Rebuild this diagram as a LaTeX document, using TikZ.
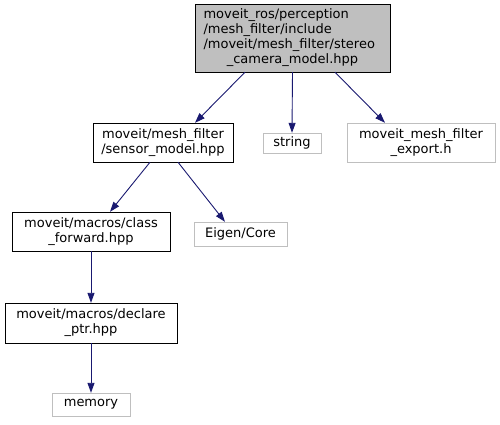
\documentclass[tikz,border=0pt]{standalone}
\usepackage{fontspec}
\setmainfont{DejaVu Sans}
\usetikzlibrary{arrows.meta}
\definecolor{kantenblau}{HTML}{191970}
\definecolor{kopfgrau}{HTML}{BFBFBF}
\begin{document}
\begin{tikzpicture}[x=1pt,y=-1pt,
  font=\fontsize{13}{15}\selectfont,
  datei/.style={draw=black,fill=white,inner sep=0pt,align=center},
  sysdatei/.style={draw=kopfgrau,fill=white,inner sep=0pt,align=center},
  dep/.style={draw=kantenblau,line width=0.9pt,-{Triangle[length=10pt,width=7pt]}}]
% Bildgroesse (px)
\useasboundingbox (0,0) rectangle (500,424);

% Ausgangsdatei (grau hinterlegt)
\node[datei,fill=kopfgrau,minimum width=195,minimum height=68,text width=178,align=left]
  (stereo) at (292.5,38)
  {moveit\_ros/perception\\/mesh\_filter/include\\/moveit/mesh\_filter/stereo\\
   \hbox to \hsize{\hfil\_camera\_model.hpp\hfil}};

% zweite Ebene
\node[datei,minimum width=140,minimum height=39] (sensor) at (163,142.5)
  {moveit/mesh\_filter\\/sensor\_model.hpp};
\node[sysdatei,minimum width=58,minimum height=20] (string) at (292,143) {string};
\node[sysdatei,minimum width=148,minimum height=39] (export) at (421,142.5)
  {moveit\_mesh\_filter\\\_export.h};

% dritte Ebene
\node[datei,minimum width=158,minimum height=39] (klasse) at (91,231.5)
  {moveit/macros/class\\\_forward.hpp};
\node[sysdatei,minimum width=93,minimum height=24] (eigen) at (240.5,234) {Eigen/Core};

% vierte und fuenfte Ebene
\node[datei,minimum width=172,minimum height=40] (declare) at (91,323)
  {moveit/macros/declare\\\_ptr.hpp};
\node[sysdatei,minimum width=78,minimum height=23] (memory) at (91,404.5) {memory};

% Kanten
\draw[dep] ([xshift=-47.5pt]stereo.south) -- ([xshift=32pt]sensor.north);
\draw[dep] (stereo.south) -- (string.north);
\draw[dep] ([xshift=42.5pt]stereo.south) -- ([xshift=-36pt]export.north);
\draw[dep] ([xshift=-13pt]sensor.south) -- ([xshift=19pt]klasse.north);
\draw[dep] ([xshift=15pt]sensor.south) -- ([xshift=-15.5pt]eigen.north);
\draw[dep] (klasse) -- (declare);
\draw[dep] (declare) -- (memory);
\end{tikzpicture}
\end{document}
